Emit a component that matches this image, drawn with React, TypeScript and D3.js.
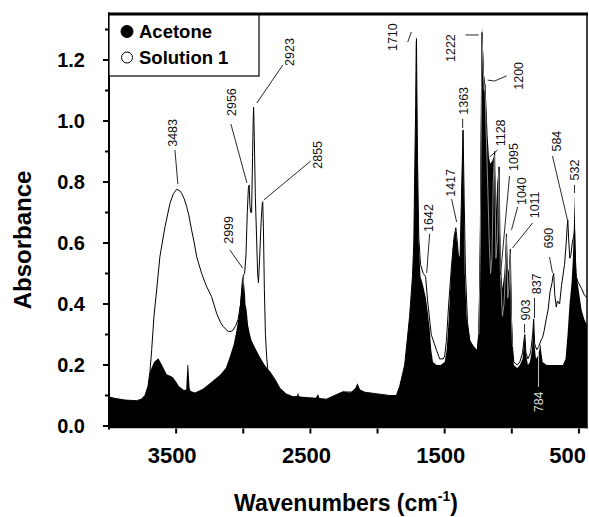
import React from 'react';
import * as d3 from 'd3';

// Acetone spectrum (filled), wavenumber (cm-1) and absorbance
const acetoneWn = [
  4000, 3950, 3880, 3794, 3760, 3732, 3710, 3695, 3665, 3633, 3605, 3571, 3545, 3524, 3500, 3479, 3442, 3425, 3416, 3410,
  3400, 3392, 3360, 3300, 3249, 3174, 3130, 3100, 3070, 3050, 3030, 3013, 3005, 2999, 2994, 2990, 2984, 2975, 2964, 2950,
  2938, 2910, 2877, 2840, 2802, 2760, 2728, 2680, 2629, 2600, 2592, 2584, 2520, 2460, 2443, 2432, 2380, 2320, 2259, 2200,
  2165, 2150, 2130, 2083, 2000, 1909, 1860, 1835, 1798, 1761, 1740, 1730, 1722, 1716, 1712, 1710, 1707, 1702, 1693, 1680,
  1660, 1640, 1625, 1612, 1600, 1587, 1560, 1530, 1500, 1485, 1470, 1455, 1440, 1425, 1417, 1408, 1395, 1385, 1375, 1366,
  1363, 1358, 1350, 1335, 1310, 1280, 1260, 1250, 1240, 1232, 1226, 1222, 1215, 1207, 1200, 1190, 1180, 1170, 1160, 1145,
  1128, 1118, 1108, 1095, 1085, 1070, 1055, 1040, 1030, 1020, 1011, 1002, 993, 985, 960, 940, 920, 910, 903, 896,
  880, 865, 850, 840, 837, 832, 820, 805, 795, 787, 780, 770, 740, 700, 660, 620, 600, 585, 570, 555,
  545, 538, 532, 527, 520, 510, 500, 480, 460, 440,
];
const acetoneAbs = [
  0.095, 0.09, 0.085, 0.083, 0.088, 0.1, 0.13, 0.178, 0.21, 0.222, 0.2, 0.17, 0.165, 0.16, 0.145, 0.13, 0.118, 0.12, 0.2, 0.2,
  0.125, 0.115, 0.11, 0.122, 0.14, 0.167, 0.19, 0.227, 0.27, 0.315, 0.37, 0.45, 0.47, 0.495, 0.43, 0.47, 0.4, 0.38, 0.33, 0.3,
  0.28, 0.255, 0.227, 0.2, 0.178, 0.15, 0.124, 0.105, 0.096, 0.098, 0.11, 0.097, 0.093, 0.092, 0.105, 0.09, 0.088, 0.1, 0.112, 0.11,
  0.125, 0.14, 0.12, 0.11, 0.105, 0.1, 0.1, 0.13, 0.2, 0.36, 0.49, 0.6, 0.87, 1.05, 1.25, 1.28, 1.1, 0.87, 0.6, 0.49,
  0.46, 0.42, 0.37, 0.32, 0.25, 0.21, 0.2, 0.2, 0.21, 0.25, 0.35, 0.48, 0.58, 0.63, 0.64, 0.6, 0.55, 0.56, 0.75, 0.96,
  0.98, 0.8, 0.5, 0.35, 0.28, 0.26, 0.25, 0.3, 0.5, 0.9, 1.2, 1.31, 1.24, 1.15, 1.13, 1.06, 0.95, 0.88, 0.86, 0.87,
  0.89, 0.7, 0.8, 0.85, 0.55, 0.45, 0.5, 0.63, 0.5, 0.52, 0.58, 0.4, 0.25, 0.2, 0.19, 0.2, 0.22, 0.27, 0.3, 0.24,
  0.2, 0.21, 0.25, 0.32, 0.36, 0.27, 0.22, 0.23, 0.25, 0.27, 0.24, 0.21, 0.2, 0.2, 0.2, 0.2, 0.22, 0.3, 0.4, 0.47,
  0.55, 0.65, 0.76, 0.6, 0.5, 0.47, 0.44, 0.38, 0.35, 0.33,
];

// Solution 1 spectrum (line)
const solutionWn = [
  4000, 3950, 3880, 3794, 3760, 3732, 3710, 3695, 3682, 3665, 3645, 3621, 3583, 3546, 3520, 3496, 3475, 3459, 3440, 3422,
  3405, 3385, 3365, 3347, 3310, 3273, 3236, 3199, 3170, 3150, 3112, 3090, 3075, 3055, 3038, 3020, 3008, 2999, 2990, 2980,
  2970, 2962, 2956, 2950, 2944, 2938, 2931, 2926, 2923, 2918, 2910, 2901, 2893, 2887, 2878, 2866, 2858, 2855, 2850, 2843,
  2835, 2825, 2817, 2802, 2760, 2728, 2680, 2629, 2520, 2380, 2259, 2083, 1909, 1860, 1835, 1798, 1761, 1740, 1730, 1722,
  1716, 1712, 1710, 1707, 1702, 1693, 1680, 1660, 1642, 1627, 1600, 1562, 1537, 1510, 1500, 1487, 1470, 1450, 1430, 1417,
  1405, 1395, 1385, 1375, 1363, 1355, 1345, 1330, 1310, 1280, 1260, 1245, 1235, 1228, 1222, 1214, 1205, 1200, 1192, 1180,
  1168, 1158, 1148, 1138, 1128, 1118, 1106, 1095, 1085, 1070, 1058, 1048, 1040, 1030, 1020, 1011, 1003, 995, 985, 960,
  940, 920, 910, 903, 895, 880, 860, 845, 837, 830, 815, 800, 784, 771, 760, 744, 730, 715, 700, 694,
  688, 680, 669, 660, 644, 630, 607, 595, 588, 583, 575, 568, 560, 550, 540, 532, 526, 520, 505, 480,
  460, 440,
];
const solutionAbs = [
  0.095, 0.09, 0.085, 0.083, 0.088, 0.1, 0.13, 0.178, 0.25, 0.36, 0.446, 0.555, 0.653, 0.73, 0.762, 0.776, 0.772, 0.763, 0.745, 0.72,
  0.69, 0.643, 0.6, 0.555, 0.5, 0.457, 0.424, 0.37, 0.34, 0.326, 0.31, 0.31, 0.315, 0.33, 0.35, 0.4, 0.47, 0.495, 0.5, 0.56,
  0.7, 0.78, 0.79, 0.72, 0.7, 0.7, 0.88, 1.0, 1.045, 0.95, 0.75, 0.62, 0.5, 0.47, 0.55, 0.68, 0.73, 0.735, 0.65, 0.45,
  0.3, 0.22, 0.185, 0.178, 0.15, 0.124, 0.105, 0.096, 0.093, 0.088, 0.112, 0.11, 0.1, 0.1, 0.13, 0.2, 0.36, 0.49, 0.6, 0.87,
  1.05, 1.25, 1.27, 1.1, 0.87, 0.62, 0.53, 0.5, 0.49, 0.41, 0.3, 0.25, 0.22, 0.22, 0.23, 0.28, 0.4, 0.52, 0.62, 0.65,
  0.6, 0.54, 0.56, 0.75, 0.97, 0.75, 0.5, 0.34, 0.27, 0.25, 0.24, 0.3, 0.6, 1.0, 1.29, 1.18, 1.1, 1.12, 0.98, 0.8,
  0.6, 0.5, 0.55, 0.8, 0.9, 0.55, 0.62, 0.85, 0.5, 0.36, 0.4, 0.5, 0.63, 0.42, 0.46, 0.58, 0.36, 0.26, 0.21, 0.2,
  0.21, 0.24, 0.28, 0.3, 0.24, 0.22, 0.24, 0.3, 0.35, 0.27, 0.25, 0.26, 0.28, 0.29, 0.31, 0.35, 0.38, 0.44, 0.47, 0.49,
  0.5, 0.43, 0.39, 0.41, 0.4, 0.46, 0.53, 0.6, 0.65, 0.675, 0.6, 0.55, 0.56, 0.6, 0.62, 0.64, 0.55, 0.49, 0.47, 0.45,
  0.43, 0.42,
];

const yTicks = [0, 0.2, 0.4, 0.6, 0.8, 1.0, 1.2];
const yMinorTicks = [0.1, 0.3, 0.5, 0.7, 0.9, 1.1, 1.3];
const xTicks = [3500, 3000, 2500, 2000, 1500, 1000, 500];
const xTickLabels = [3500, 2500, 1500, 500];

const legendItems = ['Acetone', 'Solution 1'];

// Peak labels: label text position and leader polyline, in (cm-1, absorbance)
const peakMarks: { label: string; at: [number, number]; leader: [number, number][]; light?: boolean }[] = [
  { label: '3483', at: [3524, 0.961], leader: [[3509, 0.905], [3487, 0.793]] },
  { label: '2999', at: [3107, 0.643], leader: [[3100, 0.577], [3005, 0.518]] },
  { label: '2956', at: [3081, 1.062], leader: [[3092, 0.99], [2973, 0.797]] },
  { label: '2923', at: [2653, 1.226], leader: [[2705, 1.184], [2899, 1.059]] },
  { label: '2855', at: [2445, 0.889], leader: [[2497, 0.869], [2847, 0.741]] },
  { label: '1710', at: [1887, 1.275], leader: [[1775, 1.259], [1748, 1.292]] },
  { label: '1642', at: [1619, 0.682], leader: [[1612, 0.63], [1634, 0.502]] },
  { label: '1417', at: [1456, 0.797], leader: [[1448, 0.744], [1411, 0.669]] },
  { label: '1363', at: [1359, 1.066], leader: [[1366, 1.007], [1366, 0.977]] },
  { label: '1222', at: [1456, 1.239], leader: [[1344, 1.282], [1247, 1.282]] },
  { label: '1200', at: [949, 1.148], leader: [[1039, 1.148], [1128, 1.131], [1180, 1.134]] },
  { label: '1128', at: [1084, 0.961], leader: [[1106, 0.905], [1165, 0.882]] },
  { label: '1095', at: [987, 0.882], leader: [[1017, 0.82], [1084, 0.495]] },
  { label: '1040', at: [927, 0.77], leader: [[957, 0.718], [1002, 0.643]] },
  { label: '1011', at: [831, 0.725], leader: [[845, 0.666], [994, 0.584]] },
  { label: '903', at: [898, 0.38], leader: [[905, 0.334], [905, 0.305]] },
  { label: '837', at: [816, 0.466], leader: [[831, 0.42], [831, 0.354]] },
  { label: '784', at: [801, 0.079], leader: [[801, 0.128], [801, 0.239]], light: true },
  { label: '690', at: [726, 0.616], leader: [[719, 0.554], [697, 0.502]] },
  { label: '584', at: [667, 0.934], leader: [[697, 0.885], [585, 0.675]] },
  { label: '532', at: [533, 0.839], leader: [[533, 0.79], [533, 0.764]] },
];

const W = 589;
const H = 517;
const plot = { left: 109, right: 587, top: 14, bottom: 428.5 };
const sans = '"Liberation Sans", Arial, Helvetica, sans-serif';

export default function App() {
  const x = d3.scaleLinear().domain([4000, 440]).range([plot.left, plot.right]);
  const y = d3.scaleLinear().domain([0, 1]).range([426, 121]);

  const acetone: [number, number][] = acetoneWn.map((w, i) => [w, acetoneAbs[i]]);
  const solution: [number, number][] = solutionWn.map((w, i) => [w, solutionAbs[i]]);

  const area = d3
    .area<[number, number]>()
    .x((d) => x(d[0]))
    .y0(plot.bottom)
    .y1((d) => y(d[1]));
  const line = d3
    .line<[number, number]>()
    .x((d) => x(d[0]))
    .y((d) => y(d[1]));

  const acetonePath = area(acetone) || '';
  const solutionPath = line(solution) || '';
  // fingerprint part of solution 1 that runs inside the acetone bands
  const innerPath = line(solution.filter((d) => d[0] <= 1245 && d[0] >= 990)) || '';

  const lastLabel = xTickLabels[xTickLabels.length - 1];

  return (
    <svg
      width={W}
      height={H}
      viewBox={`0 0 ${W} ${H}`}
      style={{ position: 'absolute', left: 0, top: 0, background: '#fff' }}
    >
      <defs>
        <clipPath id="plotClip">
          <rect x={plot.left} y={plot.top} width={plot.right - plot.left} height={plot.bottom - plot.top} />
        </clipPath>
        <clipPath id="acetoneClip">
          <path d={acetonePath} />
        </clipPath>
      </defs>

      <g clipPath="url(#plotClip)">
        <path d={acetonePath} fill="#000" />
        <path d={solutionPath} fill="none" stroke="#000" strokeWidth={1} strokeLinejoin="round" />
        <g clipPath="url(#acetoneClip)">
          <path d={innerPath} fill="none" stroke="#9a9a9a" strokeWidth={0.9} />
        </g>
      </g>

      {/* peak annotations */}
      {peakMarks.map((p) => {
        const tx = x(p.at[0]);
        const ty = y(p.at[1]);
        const col = p.light ? '#d8d8d8' : '#111';
        return (
          <g key={p.label}>
            <polyline
              points={p.leader.map((q) => `${x(q[0])},${y(q[1])}`).join(' ')}
              fill="none"
              stroke={col}
              strokeWidth={0.9}
            />
            <text
              transform={`translate(${tx},${ty}) rotate(-90)`}
              textAnchor="middle"
              dominantBaseline="central"
              fontFamily={sans}
              fontSize={12.5}
              fill={col}
            >
              {p.label}
            </text>
          </g>
        );
      })}

      {/* frame */}
      <line x1={plot.right} x2={plot.right} y1={plot.top} y2={plot.bottom} stroke="#000" strokeWidth={1.5} />
      <line x1={plot.left} x2={plot.left} y1={plot.top - 1.5} y2={plot.bottom + 1} stroke="#000" strokeWidth={2} />

      {/* y axis */}
      {yTicks.map((t) => (
        <g key={`y${t}`}>
          <line x1={plot.left - 6} x2={plot.left} y1={y(t)} y2={y(t)} stroke="#000" strokeWidth={2} />
          <text
            x={85}
            y={y(t)}
            textAnchor="end"
            dominantBaseline="central"
            fontFamily={sans}
            fontWeight="bold"
            fontSize={20}
            fill="#000"
          >
            {t.toFixed(1)}
          </text>
        </g>
      ))}
      {yMinorTicks.map((t) => (
        <line key={`ym${t}`} x1={plot.left - 4} x2={plot.left} y1={y(t)} y2={y(t)} stroke="#000" strokeWidth={2} />
      ))}

      {/* x axis */}
      {xTicks.map((t) => (
        <line key={`x${t}`} x1={x(t)} x2={x(t)} y1={plot.bottom} y2={plot.bottom + 5} stroke="#000" strokeWidth={2} />
      ))}
      {xTickLabels.map((t) => (
        <text
          key={`xl${t}`}
          x={t === lastLabel ? W - 3 : x(t) - 4}
          y={463}
          textAnchor={t === lastLabel ? 'end' : 'middle'}
          fontFamily={sans}
          fontWeight="bold"
          fontSize={22}
          fill="#000"
        >
          {t}
        </text>
      ))}

      {/* axis titles */}
      <text
        transform={`translate(31,240) rotate(-90)`}
        textAnchor="middle"
        fontFamily={sans}
        fontWeight="bold"
        fontSize={24}
        fill="#000"
      >
        Absorbance
      </text>
      <text x={346} y={511} textAnchor="middle" fontFamily={sans} fontWeight="bold" fontSize={23} fill="#000">
        Wavenumbers (cm
        <tspan fontSize={14} dy={-10}>
          -1
        </tspan>
        <tspan dy={10}>)</tspan>
      </text>

      {/* legend */}
      <rect x={plot.left} y={plot.top} width={150} height={62} fill="#fff" stroke="#000" strokeWidth={1.2} />
      {legendItems.map((name, i) => (
        <g key={name}>
          <circle
            cx={127}
            cy={31.5 + i * 26}
            r={i === 0 ? 6 : 5.5}
            fill={i === 0 ? '#000' : '#fff'}
            stroke="#000"
            strokeWidth={1}
          />
          <text x={139} y={38 + i * 26} fontFamily={sans} fontWeight="bold" fontSize={18.5} fill="#000">
            {name}
          </text>
        </g>
      ))}
      <line x1={plot.left - 1} x2={plot.right + 1} y1={plot.top} y2={plot.top} stroke="#000" strokeWidth={3} />
    </svg>
  );
}
